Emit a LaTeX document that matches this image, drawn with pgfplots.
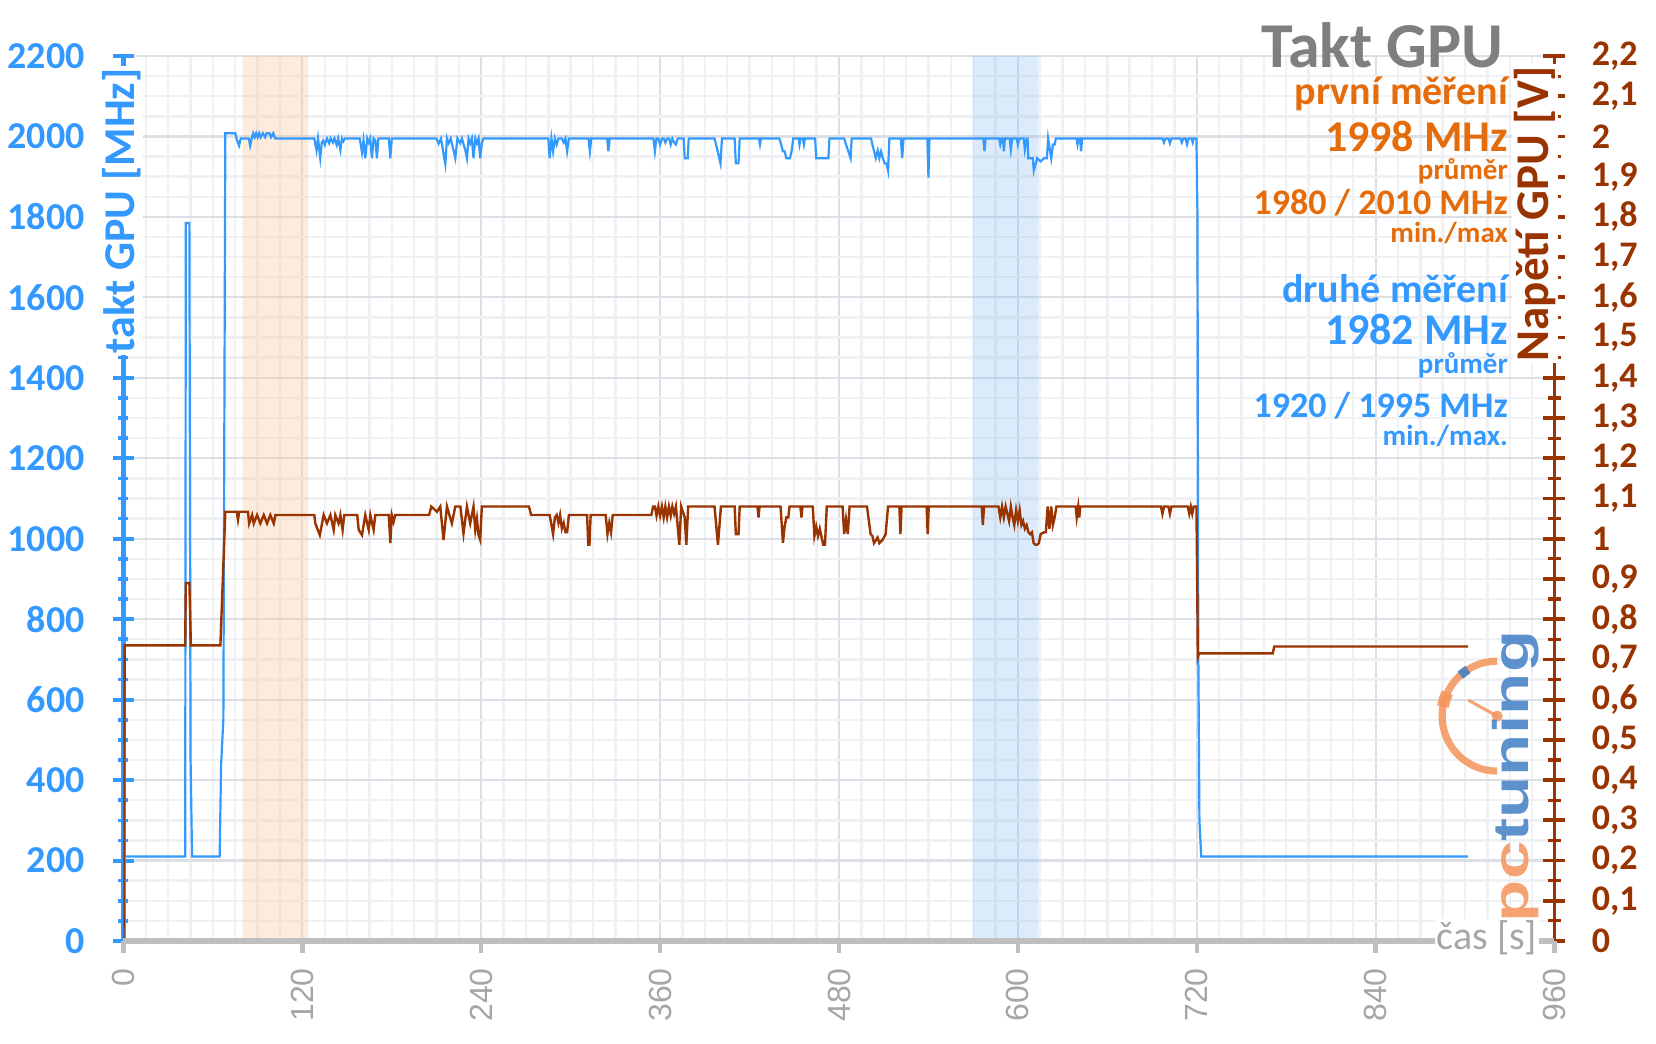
\documentclass[border=0pt]{standalone}
\usepackage{pgfplots}
\pgfplotsset{compat=1.18}
\usepackage{fontspec}
\usepackage{graphicx}
\setmainfont{Carlito}
\newfontfamily\arialf{Liberation Sans}
\definecolor{cblue}{HTML}{3399FF}
\definecolor{cbrown}{HTML}{993300}
\definecolor{corange}{HTML}{E46C0A}
\definecolor{cgray}{HTML}{7F7F7F}
\definecolor{cxt}{HTML}{A6A6A6}
\definecolor{caxis}{HTML}{BFBFBF}
\definecolor{gmaj}{HTML}{DCE0E6}
\definecolor{gmin}{HTML}{F0F1F4}
\definecolor{lorange}{HTML}{F4935A}
\definecolor{lblue}{HTML}{3F7EC6}
\definecolor{bandor}{HTML}{F9C9A0}
\definecolor{bandbl}{HTML}{7FB6F0}

\begin{document}
\begin{tikzpicture}
\useasboundingbox (-61.75pt,-51.5pt) rectangle (766.25pt,470.5pt);
% ---------- axis A: grid, bands, clock ----------
\begin{axis}[
  anchor=south west, at={(0pt,0pt)},
  width=715.5pt, height=442.5pt, scale only axis,
  xmin=0, xmax=960, ymin=0, ymax=2200,
  separate axis lines,
  axis x line*=bottom, axis y line*=left,
  x axis line style={draw=none},
  xtick={0,120,...,960}, minor x tick num=7, xticklabels={},
  x tick style={draw=none}, minor x tick style={draw=none},
  ytick={0,200,...,2200}, minor y tick num=3,
  grid=both,
  major grid style={gmaj, line width=1.1pt},
  minor grid style={gmin, line width=1.2pt},
  y axis line style={-, cblue, line width=2.2pt},
  y tick style={cblue, line width=2pt},
  minor y tick style={cblue, line width=1.8pt},
  tick align=center, major tick length=10.5pt, minor tick length=5pt,
  yticklabel style={font=\fontsize{19}{19}\selectfont\bfseries, text=cblue, anchor=east, inner sep=0pt, xshift=-14pt},
  /pgf/number format/assume math mode=true,
  /pgf/number format/1000 sep={},
]
\addplot[draw=none, fill=bandor, fill opacity=0.35] coordinates {(80,0)(80,2200)(124,2200)(124,0)} \closedcycle;
\addplot[draw=none, fill=bandbl, fill opacity=0.27] coordinates {(570,0)(570,2200)(614,2200)(614,0)} \closedcycle;
\addplot[cblue, line width=1.1pt, mark=none] coordinates {
(0,0)(0.8,210)(41.4,210)(41.8,1785)(44.2,1785)(45,450)(46,210)(64.5,210)(65.5,440)(67,550)(68.3,2008)(75,2008)(75.8,1995)(77.5,1977)(78.7,1995)(84,1995)(85,1977)(86,1995)(87,2008)(88,1998)(89,2008)(90,1998)(91,2008)(92,1998)(93.5,2008)(95,1998)(96,2008)(98,2008)(99,1998)(100.5,2008)(101.8,1995)
(128,1995)(129.5,1965)(130.5,1995)(132,1946)(133,1985)(134,1990)(135,1979)(136.5,1995)(138,1983)(139,1995)(140.5,1985)(141.5,1995)(143,1979)(144,1995)(145.5,1966)(146.5,1995)(147.5,1988)(148.5,1995)
(158.5,1995)(160,1960)(161,1990)(162.2,1946)(163.5,1995)(164.5,1985)(165.5,1995)(166.7,1946)(167.8,1995)(169,1990)(170,1946)(171,1995)(178,1995)(179,1946)(180,1995)
(210,1995)(211.4,1982)(213,1995)(215.9,1931)(217,1995)(218.1,1983)(219.5,1995)(222.6,1946)(224,1995)(225.9,1983)(227,1995)(229.3,1966)(230.4,1946)(231.5,1995)(232.6,1983)(233.7,1995)(234.8,1946)(236,1995)(237.1,1983)(238.2,1995)(239.3,1946)(240.4,1983)(241.5,1995)
(285,1995)(285.9,1946)(287.1,1995)(288.2,1963)(289.4,1995)(290.6,1980)(291.8,1995)(294.1,1995)(295.3,1985)(296.5,1995)(297.6,1963)(298.8,1995)
(312,1995)(312.9,1963)(313.8,1995)(324.5,1995)(325.3,1963)(326.2,1995)
(355.5,1995)(356.5,1963)(357.5,1995)(358.8,1995)(360,1980)(361.2,1995)(362.4,1995)(363.5,1985)(364.7,1995)(366,1995)(367.1,1980)(368.2,1995)(369.4,1985)(370.6,1980)(371.8,1995)
(375.8,1995)(376.5,1946)(378.5,1946)(379.2,1995)
(396.5,1995)(398.5,1965)(400.5,1933)(401.5,1995)
(410,1995)(410.8,1933)(412.6,1933)(413.4,1995)
(426.3,1995)(427,1980)(427.7,1995)
(440,1995)(441.2,1980)(442.4,1963)(443.5,1963)(444.7,1946)(447.1,1946)(448.2,1963)(449.3,1995)
(452.9,1995)(453.5,1980)(454.2,1995)(455.8,1995)(456.5,1980)(457.2,1995)
(464,1995)(464.7,1946)(472.9,1946)(473.6,1995)
(483.5,1995)(484.7,1980)(485.9,1967)(487.8,1946)(488.5,1995)
(501.5,1995)(502.4,1980)(504.7,1946)(506,1965)(507.1,1946)(508.2,1963)(509.4,1946)(510.6,1933)(511.8,1933)(512.9,1915)(513.8,1995)
(521.5,1995)(522.4,1946)(523.3,1995)
(539.3,1995)(540,1898)(540.7,1995)
(576.9,1995)(577.6,1963)(578.3,1995)
(587.5,1995)(588.2,1980)(589.2,1995)(590,1995)(590.6,1963)(591.3,1995)(594.5,1995)(595.3,1967)(596.2,1995)(599.3,1995)(600,1980)(601,1995)(604,1995)(604.7,1967)(606,1995)
(606.5,1995)(607,1946)(610,1946)(610.7,1915)(613,1946)(615.3,1938)(617.6,1946)(619.5,1946)(620.3,1995)(622.4,1946)(623.5,1980)(624.7,1980)(625.5,1995)
(639.3,1995)(640,1980)(640.8,1995)(641.7,1995)(642.4,1963)(643.1,1995)
(697,1995)(698,1985)(699,1995)(701,1995)(702,1983)(703,1995)(709,1995)(710,1985)(711,1995)(712.5,1995)(713.5,1980)(714.5,1995)(716.5,1995)(717.3,1985)(718,1995)(719.8,1995)(720.5,1800)(721,750)(721.8,300)(723,210)(902,210)
};
\end{axis}
% ---------- axis B: voltage ----------
\begin{axis}[
  anchor=south west, at={(0pt,0pt)},
  width=715.5pt, height=442.5pt, scale only axis,
  xmin=0, xmax=960, ymin=0, ymax=2.2,
  separate axis lines,
  axis x line=none, axis y line*=right,
  ytick={0,0.1,0.2,0.3,0.4,0.5,0.6,0.7,0.8,0.9,1,1.1,1.2,1.3,1.4,1.5,1.6,1.7,1.8,1.9,2,2.1,2.2},
  minor y tick num=1,
  y axis line style={-, cbrown, line width=1.8pt},
  y tick style={cbrown, line width=1.9pt},
  minor y tick style={cbrown, line width=1.6pt},
  tick align=center, major tick length=11pt, minor tick length=6.5pt,
  yticklabel style={font=\fontsize{18}{18}\selectfont\bfseries, text=cbrown, anchor=west, inner sep=0pt, xshift=13pt},
  /pgf/number format/assume math mode=true,
  /pgf/number format/use comma,
  /pgf/number format/fixed,
  /pgf/number format/precision=1,
]
\addplot[cbrown, line width=1.2pt, mark=none] coordinates {
(0,0)(0.8,0.735)(41.4,0.735)(41.8,0.89)(44.2,0.89)(45.2,0.735)(65,0.735)(68.3,1.067)(76,1.067)(76.8,1.047)(77.6,1.067)(83.5,1.067)(84.3,1.038)(86.3,1.059)(87.4,1.038)(89.6,1.059)(91.8,1.038)(94.1,1.059)(96.3,1.038)(98.5,1.059)(100.8,1.038)(101.9,1.059)
(128,1.059)(128.7,1.038)(131.7,1.009)(133.2,1.038)(134.3,1.059)(136.5,1.038)(138.8,1.059)(141,1.022)(142.1,1.059)(144.3,1.038)(145.5,1.059)(147,1.022)(148.1,1.059)
(156.8,1.059)(157.8,1.022)(160,1.009)(162.2,1.059)(164.5,1.022)(165.6,1.059)(167.8,1.022)(168.9,1.059)
(178,1.059)(179,0.989)(180,1.059)(181.2,1.042)(182.3,1.059)
(205,1.059)(206.5,1.08)(210.3,1.067)(212.5,1.08)(214.7,0.997)(217,1.08)(220.3,1.038)(222.6,1.08)(226,1.08)(228.1,1.013)(230.4,1.08)(232.6,1.038)(234.8,1.08)(236,1.022)(237.1,1.05)(238.2,1.009)(239.3,0.997)(240.4,1.08)
(272,1.08)(273.5,1.059)
(285.9,1.059)(287.1,1.034)(288.2,1.0115)(289.4,1.053)(290.6,1.059)(291.8,1.039)(292.9,1.059)(294.1,1.025)(295.3,1.039)(296.5,1.016)(297.6,1.016)(298.8,1.059)
(311,1.059)(311.8,0.985)(312.6,0.985)(313.4,1.059)
(323.5,1.059)(324.7,1.0115)(325.9,1.039)(327.1,1.016)(328.2,1.059)
(354.1,1.059)(355.3,1.08)(356.5,1.08)(357.6,1.057)(358.8,1.08)(360,1.057)(361.2,1.08)(362.4,1.053)(363.5,1.08)(364.7,1.053)(365.9,1.08)(367.1,1.057)(368.2,1.08)(369.4,1.062)(370.6,1.08)(372.9,0.985)(374.1,1.08)(376.5,1.053)(377.6,0.985)(378.8,1.08)
(396.5,1.08)(398.8,0.985)(400.8,1.08)
(410,1.08)(410.8,1.0115)(412.6,1.0115)(413.4,1.08)
(425.3,1.08)(426,1.053)(426.7,1.08)
(440.8,1.08)(442.4,0.99)(443.5,1.03)(444.7,1.053)(446,1.053)(446.8,1.08)
(454.1,1.08)(454.8,1.053)(455.5,1.08)
(462.4,1.08)(463.5,1.007)(464.7,1.03)(465.9,1.007)(467.1,1.025)(469.4,0.985)(470.6,0.985)(471.8,1.08)
(482.4,1.08)(483.5,1.0115)(484.7,1.048)(485.9,1.0115)(487.1,1.08)
(498.8,1.08)(501.2,1.0115)(502.4,1.007)(503.5,0.989)(505.9,1.003)(507.1,0.989)(509.4,0.998)(511.3,1.0115)(512.9,1.08)
(520.5,1.08)(521.2,1.0115)(522,1.08)
(538.8,1.08)(539.5,1.0115)(540.2,1.08)
(575.8,1.08)(576.5,1.034)(577.3,1.08)
(587,1.08)(588.2,1.053)(589.4,1.08)(590.6,1.053)(591.8,1.08)(594.1,1.044)(595.3,1.08)(596.5,1.053)(597.6,1.034)(598.8,1.071)(600,1.044)(601.2,1.071)(602.4,1.034)(603.5,1.044)(604.7,1.025)(605.9,1.034)(607.1,1.016)(608.2,1.0115)(609.4,1.016)(610.6,0.989)(611.8,0.985)(612.9,0.985)(614.1,0.989)(615.3,1.0115)(617.6,1.016)(618.8,1.016)(620,1.08)(621.2,1.025)(622.4,1.08)(623.5,1.034)(624.7,1.053)(625.9,1.08)
(638.8,1.08)(639.5,1.053)(640.5,1.08)(641.2,1.053)(641.9,1.08)
(696,1.08)(697,1.062)(698,1.08)(701,1.08)(702,1.062)(703,1.08)(714,1.08)(715,1.062)(716,1.08)(717,1.062)(718,1.08)(719.8,1.08)(720.3,0.9)(720.7,0.705)(721.5,0.715)(771,0.715)(772,0.732)(902,0.732)
};
\end{axis}
% ---------- axis C: time axis ----------
\begin{axis}[
  anchor=south west, at={(0pt,0pt)},
  width=715.5pt, height=442.5pt, scale only axis,
  xmin=0, xmax=960, ymin=0, ymax=2200,
  separate axis lines,
  axis x line*=bottom, axis y line=none,
  x axis line style={-, caxis, line width=2.8pt},
  xtick={0,120,...,960},
  x tick style={caxis, line width=2.2pt},
  tick align=outside, major tick length=6pt,
  xticklabel style={rotate=90, anchor=east, inner sep=0pt, xshift=-7.5pt, font=\arialf\fontsize{16}{16}\selectfont, text=cxt},
  /pgf/number format/assume math mode=true,
]
\addplot[draw=none] coordinates {(0,0)};
\end{axis}
% ---------- texts ----------
\begin{scope}[x=0.7453125pt, y=0.20113636pt]
\node[anchor=base east, inner sep=0pt, text=cgray, font=\fontsize{32}{32}\selectfont\bfseries] at (926,2171) {Takt GPU};
\node[anchor=base east, inner sep=0pt, text=corange, font=\fontsize{20}{20}\selectfont\bfseries] at (929,2079) {první měření};
\node[anchor=base east, inner sep=0pt, text=corange, font=\fontsize{22}{22}\selectfont\bfseries] at (929,1962) {1998 MHz};
\node[anchor=base east, inner sep=0pt, text=corange, font=\fontsize{14.5}{14.5}\selectfont\bfseries] at (929,1892) {průměr};
\node[anchor=base east, inner sep=0pt, text=corange, font=\fontsize{18}{18}\selectfont\bfseries] at (929,1805) {1980 / 2010 MHz};
\node[anchor=base east, inner sep=0pt, text=corange, font=\fontsize{14.5}{14.5}\selectfont\bfseries] at (929,1737) {min./max};
\node[anchor=base east, inner sep=0pt, text=cblue, font=\fontsize{20}{20}\selectfont\bfseries] at (929,1586) {druhé měření};
\node[anchor=base east, inner sep=0pt, text=cblue, font=\fontsize{22}{22}\selectfont\bfseries] at (929,1482) {1982 MHz};
\node[anchor=base east, inner sep=0pt, text=cblue, font=\fontsize{14.5}{14.5}\selectfont\bfseries] at (929,1410) {průměr};
\node[anchor=base east, inner sep=0pt, text=cblue, font=\fontsize{18}{18}\selectfont\bfseries] at (929,1301) {1920 / 1995 MHz};
\node[anchor=base east, inner sep=0pt, text=cblue, font=\fontsize{14.5}{14.5}\selectfont\bfseries] at (929,1231) {min./max.};
% axis titles
\node[rotate=90, anchor=base, fill=white, inner sep=1pt, text=cblue, font=\fontsize{22}{22}\selectfont\bfseries] at (7.7,1815) {takt GPU [MHz]};
\node[rotate=90, anchor=base, fill=white, inner sep=1pt, text=cbrown, font=\fontsize{23.5}{23.5}\selectfont\bfseries] at (956,1808) {Napětí GPU [V]};
\node[anchor=base east, fill=white, inner sep=1pt, text=cxt, font=\fontsize{20}{20}\selectfont] at (950,-22) {čas [s]};
% logo
\begin{scope}[opacity=0.85]
\draw[lorange, line width=3.6pt] (921.5,559) ++(90:27.5pt) arc[start angle=90, end angle=270, radius=27.5pt];
\draw[lorange, line width=6pt] (921.5,559) ++(155:27.5pt) arc[start angle=155, end angle=170, radius=27.5pt];
\draw[lblue, line width=4.5pt] (921.5,559) ++(122:27.5pt) arc[start angle=122, end angle=132, radius=27.5pt];
\draw[lorange, line width=1.5pt] (921.5,559) -- ++(151:16.5pt);
\fill[lorange] (921.5,559) circle[radius=2.8pt];
\node[rotate=90, anchor=base, inner sep=0pt, font=\arialf\bfseries\fontsize{25}{25}\selectfont] at (942.3,409) {\scalebox{1.38}[1]{\textcolor{lorange}{pc}\textcolor{lblue}{tuning}}};
\end{scope}
\end{scope}
\end{tikzpicture}
\end{document}
